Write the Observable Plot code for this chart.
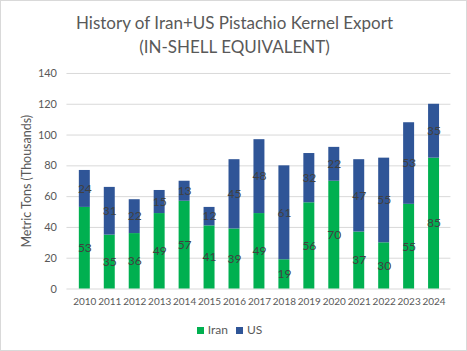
<!DOCTYPE html>
<html>
<head>
<meta charset="utf-8">
<script src="https://cdn.jsdelivr.net/npm/d3@7"></script>
<script src="https://cdn.jsdelivr.net/npm/@observablehq/plot@0.6"></script>
<style>
  html, body { margin: 0; padding: 0; background: #fff; }
  #chart { position: relative; width: 467px; height: 351px; box-sizing: border-box; border: 1px solid #d9d9d9; font-family: Lato, "Open Sans", sans-serif; overflow: hidden; }
  #title { position: absolute; left: 0; top: 10px; width: 467px; text-align: center; color: #595959; font-size: 17px; line-height: 24px; }
  #plot { position: absolute; left: -1px; top: 61px; }
  #legend { position: absolute; left: 0; top: 321px; width: 465px; text-align: center; color: #595959; font-size: 12px; }
  #legend span.sw { display: inline-block; width: 7px; height: 7px; margin-right: 4px; vertical-align: 0px; }
  #legend span.it { margin-right: 8px; }
</style>
</head>
<body>
<div id="chart">
  <div id="title">History of Iran+US Pistachio Kernel Export<br>(IN-SHELL EQUIVALENT)</div>
  <div id="plot"></div>
  <div id="legend"></div>
</div>
<script>
const years = ["2010","2011","2012","2013","2014","2015","2016","2017","2018","2019","2020","2021","2022","2023","2024"];
const iran = [53, 35, 36, 49, 57, 41, 39, 49, 19, 56, 70, 37, 30, 55, 85];
const us = [24, 31, 22, 15, 13, 12, 45, 48, 61, 32, 22, 47, 55, 53, 35];
const seriesNames = ["Iran", "US"];
const seriesColors = ["#00B050", "#2F5597"];
const yTicks = [0, 20, 40, 60, 80, 100, 120, 140];

const data = [];
years.forEach((yr, i) => data.push({year: yr, series: "Iran", value: iran[i]}));
years.forEach((yr, i) => data.push({year: yr, series: "US", value: us[i]}));

const chart = Plot.plot({
  width: 467,
  height: 251,
  marginLeft: 66.6,
  marginRight: 15.6,
  marginTop: 11,
  marginBottom: 24,
  style: {fontFamily: "Lato, 'Open Sans', sans-serif", fontSize: "11px", color: "#595959", background: "transparent"},
  x: {domain: years, paddingInner: 0.57, paddingOuter: 0.285},
  y: {domain: [0, 140], ticks: yTicks},
  color: {domain: seriesNames, range: seriesColors},
  marks: [
    Plot.gridY(yTicks, {stroke: "#d9d9d9", strokeOpacity: 1, strokeWidth: 1}),
    Plot.barY(data, Plot.stackY({x: "year", y: "value", z: "series", fill: "series", order: null})),
    Plot.text(data, Plot.stackY({x: "year", y: "value", z: "series", text: "value", order: null, fill: "#404040", fontSize: 12})),
    Plot.axisX({tickSize: 0, tickPadding: 9, label: null, fontSize: 10, fill: "#595959"}),
    Plot.axisY({ticks: yTicks, tickSize: 0, tickPadding: 10, label: null, fontSize: 11, fill: "#595959"}),
    Plot.text(["Metric Tons (Thousands)"], {frameAnchor: "left", textAnchor: "middle", dx: -40, rotate: -90, fontSize: 12.5, fill: "#595959"})
  ]
});
document.getElementById("plot").appendChild(chart);

const legend = document.getElementById("legend");
seriesNames.forEach((n, i) => {
  const sw = document.createElement("span");
  sw.className = "sw";
  sw.style.background = seriesColors[i];
  const t = document.createElement("span");
  t.className = "it";
  t.textContent = n;
  legend.appendChild(sw);
  legend.appendChild(t);
});
</script>
</body>
</html>
